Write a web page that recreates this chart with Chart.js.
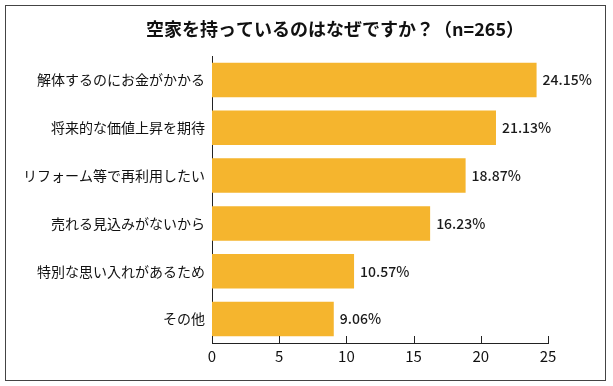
<!DOCTYPE html>
<html>
<head>
<meta charset="utf-8">
<script src="https://cdn.jsdelivr.net/npm/chart.js@4"></script>
<style>
  body { margin: 0; background: #fff; }
  #wrap { position: relative; width: 613px; height: 386px; }
  #frame {
    position: absolute; left: 5px; top: 5px; width: 599px; height: 374px;
    border: 1.5px solid #444; pointer-events: none;
  }
</style>
</head>
<body>
<div id="wrap">
  <canvas id="chart" width="613" height="386"></canvas>
  <div id="frame"></div>
</div>
<script>
const titleText = "空家を持っているのはなぜですか？（n=265）";
const categories = [
  "解体するのにお金がかかる",
  "将来的な価値上昇を期待",
  "リフォーム等で再利用したい",
  "売れる見込みがないから",
  "特別な思い入れがあるため",
  "その他",
];
const percents = [24.15, 21.13, 18.87, 16.23, 10.57, 9.06];
const xTicks = [0, 5, 10, 15, 20, 25];

const FONT = "'Noto Sans CJK JP', 'Noto Sans', sans-serif";

// title, drawn a bit right of the canvas centre like the original
const topTitle = {
  id: "topTitle",
  afterDraw(chart) {
    const ctx = chart.ctx;
    ctx.save();
    ctx.font = "bold 18px " + FONT;
    ctx.fillStyle = "#111";
    ctx.textAlign = "center";
    ctx.textBaseline = "middle";
    ctx.fillText(titleText, 335, 29);
    ctx.restore();
  },
};

// value labels at the end of each bar
const valueLabels = {
  id: "valueLabels",
  afterDatasetsDraw(chart) {
    const ctx = chart.ctx;
    const meta = chart.getDatasetMeta(0);
    ctx.save();
    ctx.font = "500 14px " + FONT;
    ctx.fillStyle = "#1a1a1a";
    ctx.textBaseline = "middle";
    meta.data.forEach((bar, i) => {
      ctx.fillText(percents[i].toFixed(2) + "%", bar.x + 6, bar.y);
    });
    ctx.restore();
  },
};

// short tick marks pointing up into the plot
const innerTicks = {
  id: "innerTicks",
  afterDraw(chart) {
    const ctx = chart.ctx;
    const x = chart.scales.x;
    const y0 = chart.chartArea.bottom;
    ctx.save();
    ctx.strokeStyle = "#222";
    ctx.lineWidth = 1;
    xTicks.forEach((v) => {
      const px = Math.round(x.getPixelForValue(v)) + 0.5;
      ctx.beginPath();
      ctx.moveTo(px, y0);
      ctx.lineTo(px, y0 - 7);
      ctx.stroke();
    });
    ctx.restore();
  },
};

new Chart(document.getElementById("chart"), {
  type: "bar",
  data: {
    labels: categories,
    datasets: [
      {
        data: percents,
        backgroundColor: "#F5B52E",
        borderWidth: 0,
        categoryPercentage: 1,
        barPercentage: 0.72,
      },
    ],
  },
  options: {
    indexAxis: "y",
    responsive: false,
    animation: false,
    layout: {
      padding: { left: 0, right: 65, top: 56, bottom: 0 },
    },
    plugins: {
      legend: { display: false },
      tooltip: { enabled: false },
      title: { display: false },
    },
    scales: {
      x: {
        min: 0,
        max: 25,
        afterBuildTicks: (scale) => {
          scale.ticks = xTicks.map((v) => ({ value: v }));
        },
        afterFit: (scale) => {
          scale.height = 43;
        },
        grid: { display: false, drawTicks: false },
        border: { display: true, color: "#222", width: 1 },
        ticks: {
          color: "#111",
          padding: 4,
          font: { family: FONT, size: 15 },
        },
      },
      y: {
        afterFit: (scale) => {
          scale.width = 212;
        },
        grid: { display: false, drawTicks: false },
        border: { display: true, color: "#222", width: 1 },
        ticks: {
          color: "#111",
          padding: 7,
          font: { family: FONT, size: 14 },
        },
      },
    },
  },
  plugins: [topTitle, valueLabels, innerTicks],
});
</script>
</body>
</html>
